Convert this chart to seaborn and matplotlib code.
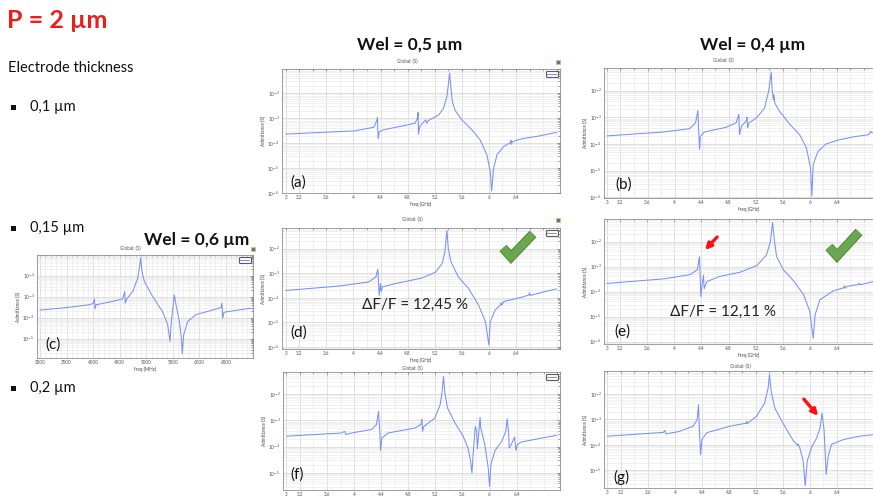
import numpy as np
import pandas as pd
import matplotlib
matplotlib.use("Agg")
import matplotlib.pyplot as plt
import matplotlib.patheffects as pe
import seaborn as sns
from matplotlib.lines import Line2D
from matplotlib.patches import FancyArrowPatch, Rectangle
from matplotlib.ticker import FixedLocator, LogLocator, NullFormatter, FuncFormatter, FixedFormatter

# ---------------- data (freq, admittance in S) ----------------
panel_a = [(3.00, 2.3e-4), (4.02, 3.1e-4), (4.30, 4.3e-4), (4.34, 7.4e-4), (4.355, 1.07e-3),
           (4.36, 3.0e-4), (4.365, 1.5e-4), (4.38, 2.8e-4), (4.44, 3.4e-4), (4.76, 5.1e-4),
           (4.91, 6.3e-4), (4.945, 1.0e-3), (4.955, 1.7e-3), (4.96, 2.3e-4), (4.98, 4.7e-4),
           (5.03, 6.8e-4), (5.07, 8.5e-4), (5.08, 6.3e-4), (5.11, 8.1e-4), (5.26, 1.35e-3),
           (5.33, 2.5e-3), (5.38, 7.4e-3), (5.40, 2.1e-2), (5.42, 6.3e-2), (5.44, 1.6e-2),
           (5.46, 4.6e-3), (5.50, 2.1e-3), (5.60, 8.5e-4), (5.75, 3.4e-4), (5.87, 1.35e-4),
           (5.97, 3.4e-5), (6.02, 7.4e-6), (6.04, 1.2e-6), (6.07, 1.0e-5), (6.12, 3.4e-5),
           (6.22, 7.4e-5), (6.32, 1.05e-4), (6.325, 1.3e-4), (6.33, 9.0e-5), (6.35, 1.15e-4),
           (6.49, 1.5e-4), (6.73, 1.9e-4), (7.00, 2.7e-4)]

panel_b = [(3.00, 2.0e-4), (3.83, 2.8e-4), (4.22, 3.7e-4), (4.31, 6.2e-4), (4.345, 1.8e-3),
           (4.355, 3.5e-4), (4.37, 6.2e-5), (4.38, 1.9e-4), (4.44, 2.8e-4), (4.76, 4.2e-4),
           (4.91, 6.2e-4), (4.95, 1.3e-3), (4.96, 2.2e-4), (4.99, 4.6e-4), (5.06, 7.5e-4),
           (5.07, 1.0e-3), (5.08, 4.0e-4), (5.10, 6.2e-4), (5.21, 9.4e-4), (5.33, 2.2e-3),
           (5.39, 9.4e-3), (5.43, 5.0e-2), (5.44, 1.26e-2), (5.46, 4.6e-3), (5.47, 7.1e-3),
           (5.48, 3.5e-3), (5.55, 1.7e-3), (5.70, 5.6e-4), (5.85, 2.2e-4), (5.95, 7.1e-5),
           (6.01, 1.26e-5), (6.03, 1.1e-6), (6.05, 1.7e-5), (6.12, 5.2e-5), (6.24, 1.0e-4),
           (6.44, 1.45e-4), (6.68, 1.9e-4), (6.86, 2.2e-4), (6.88, 2.4e-4), (6.90, 3.0e-4),
           (6.92, 2.6e-4), (7.00, 2.8e-4)]

panel_c = [(3000, 2.3e-4), (3490, 3.0e-4), (3929, 4.1e-4), (3992, 4.7e-4), (4011, 5.5e-4),
           (4023, 7.8e-4), (4036, 2.6e-4), (4055, 4.1e-4), (4306, 5.5e-4), (4557, 7.8e-4),
           (4594, 1.7e-3), (4607, 4.9e-4), (4632, 7.8e-4), (4745, 1.7e-3), (4839, 7.4e-3),
           (4870, 2.2e-2), (4896, 7.1e-2), (4921, 1.55e-2), (4965, 5.2e-3), (5122, 1.0e-3),
           (5310, 1.9e-4), (5404, 4.6e-5), (5448, 7.4e-6), (5473, 6.6e-5), (5511, 4.9e-4),
           (5530, 1.2e-3), (5561, 4.1e-4), (5624, 6.6e-5), (5662, 1.07e-5), (5680, 1.9e-6),
           (5705, 1.5e-5), (5781, 6.6e-5), (5938, 1.4e-4), (6252, 2.3e-4), (6408, 3.0e-4),
           (6427, 4.9e-4), (6440, 9.5e-5), (6465, 1.8e-4), (6628, 2.1e-4), (6973, 2.8e-4)]

panel_d = [(3.00, 2.0e-4), (3.78, 3.0e-4), (4.22, 4.4e-4), (4.33, 7.0e-4), (4.36, 1.45e-3),
           (4.37, 4.4e-4), (4.38, 1.26e-4), (4.40, 3.8e-4), (4.41, 1.8e-4), (4.43, 2.8e-4),
           (4.62, 3.8e-4), (5.01, 6.4e-4), (5.21, 1.1e-3), (5.31, 2.5e-3), (5.35, 7.3e-3),
           (5.38, 5.6e-2), (5.40, 1.0e-2), (5.44, 2.9e-3), (5.55, 7.0e-4), (5.70, 2.4e-4),
           (5.85, 4.9e-5), (5.95, 1.05e-5), (6.00, 1.2e-6), (6.02, 1.05e-5), (6.09, 3.1e-5),
           (6.17, 5.2e-5), (6.18, 6.3e-5), (6.19, 5.0e-5), (6.22, 7.1e-5), (6.49, 1.07e-4),
           (6.59, 1.3e-4), (6.60, 1.6e-4), (6.61, 1.25e-4), (6.83, 1.8e-4), (7.00, 2.3e-4)]

panel_e = [(3.00, 2.1e-4), (3.84, 3.2e-4), (4.23, 4.7e-4), (4.34, 7.4e-4), (4.37, 2.5e-3),
           (4.38, 4.7e-4), (4.39, 6.3e-5), (4.41, 1.9e-4), (4.43, 4.4e-4), (4.44, 1.3e-4),
           (4.48, 2.5e-4), (4.67, 4.0e-4), (4.97, 5.9e-4), (5.22, 1.1e-3), (5.36, 2.9e-3),
           (5.42, 1.0e-2), (5.45, 5.8e-2), (5.48, 1.0e-2), (5.51, 2.5e-3), (5.61, 7.4e-4),
           (5.76, 2.7e-4), (5.91, 7.4e-5), (6.00, 1.6e-5), (6.05, 1.35e-6), (6.08, 1.2e-5),
           (6.15, 4.7e-5), (6.35, 1.07e-4), (6.50, 1.4e-4), (6.51, 1.7e-4), (6.52, 1.35e-4),
           (6.55, 1.6e-4), (6.72, 1.9e-4), (6.73, 2.2e-4), (6.74, 1.85e-4), (6.94, 2.5e-4)]

panel_f = [(3.00, 2.5e-4), (3.81, 3.3e-4), (3.86, 3.8e-4), (3.88, 2.9e-4), (3.96, 3.3e-4),
           (4.26, 4.5e-4), (4.33, 6.9e-4), (4.36, 2.2e-3), (4.38, 3.8e-4), (4.39, 7.1e-5),
           (4.41, 2.1e-4), (4.50, 3.3e-4), (4.90, 5.1e-4), (4.99, 7.2e-4), (5.00, 1.07e-3),
           (5.01, 3.8e-4), (5.03, 5.9e-4), (5.19, 1.2e-3), (5.27, 3.9e-3), (5.30, 1.26e-2),
           (5.32, 4.7e-2), (5.34, 1.1e-2), (5.38, 2.9e-3), (5.49, 7.9e-4), (5.61, 2.5e-4),
           (5.68, 8.9e-5), (5.72, 2.8e-5), (5.74, 1.0e-5), (5.76, 6.6e-5), (5.79, 5.9e-4),
           (5.81, 3.8e-4), (5.82, 8.3e-5), (5.84, 3.3e-4), (5.86, 1.3e-3), (5.87, 5.1e-4),
           (5.93, 1.2e-4), (5.98, 1.55e-5), (6.00, 3.1e-6), (6.02, 2.1e-5), (6.08, 7.1e-5),
           (6.18, 1.6e-4), (6.24, 3.8e-4), (6.26, 1.15e-3), (6.28, 3.8e-4), (6.29, 8.9e-5),
           (6.32, 1.2e-4), (6.37, 2.3e-4), (6.39, 7.1e-5), (6.41, 1.2e-4), (6.47, 1.5e-4),
           (6.72, 2.0e-4), (6.99, 2.7e-4)]

panel_g = [(3.00, 2.2e-4), (3.83, 3.1e-4), (3.85, 3.7e-4), (3.87, 2.7e-4), (4.07, 3.4e-4),
           (4.27, 5.4e-4), (4.33, 1.0e-3), (4.35, 3.8e-3), (4.36, 6.3e-4), (4.38, 4.0e-5),
           (4.40, 1.6e-4), (4.47, 3.0e-4), (4.81, 5.4e-4), (5.06, 7.2e-4), (5.065, 8.5e-4),
           (5.07, 6.8e-4), (5.21, 1.35e-3), (5.33, 4.5e-3), (5.38, 1.7e-2), (5.40, 6.0e-2),
           (5.43, 1.1e-2), (5.48, 2.8e-3), (5.60, 7.2e-4), (5.75, 1.5e-4), (5.82, 9.3e-5),
           (5.825, 1.1e-4), (5.85, 7.6e-5), (5.90, 2.3e-5), (5.93, 2.5e-6), (5.96, 2.3e-5),
           (6.02, 7.6e-5), (6.10, 1.9e-4), (6.15, 4.7e-4), (6.18, 1.8e-3), (6.21, 3.5e-4),
           (6.24, 6.9e-6), (6.27, 3.6e-5), (6.32, 1.05e-4), (6.49, 1.6e-4), (6.73, 2.2e-4),
           (6.93, 2.5e-4)]

ghz_ticks = [3, 3.2, 3.6, 4, 4.4, 4.8, 5.2, 5.6, 6, 6.4]
ghz_labels = ["3", "3.2", "3.6", "4", "4.4", "4.8", "5.2", "5.6", "6", "6.4"]
mhz_ticks = [3000, 3500, 4000, 4500, 5000, 5500, 6000, 6500]
mhz_labels = ["3000", "3500", "4000", "4500", "5000", "5500", "6000", "6500"]

# ---------------- figure ----------------
sns.set_theme(style="white")
plt.rcParams['font.family'] = ['Lato', 'DejaVu Sans']
plt.rcParams['mathtext.fontset'] = 'dejavusans'

W, H = 873, 498
fig = plt.figure(figsize=(W / 100, H / 100), dpi=100)
fig.patch.set_facecolor("white")

LINE = "#7891f5"


def px_axes(l, t, r, b):
    return fig.add_axes([l / W, 1 - b / H, (r - l) / W, (b - t) / H])


def fx(x):
    return x / W


def fy(y):
    return 1 - y / H


def draw_panel(rect, pts, xlim, ylim, ticks, labels, minor_step, xlabel):
    ax = px_axes(*rect)
    f = [p[0] for p in pts]
    y = [p[1] for p in pts]
    df = pd.DataFrame({"freq": f, "Y": y})
    ax.set_yscale("log")
    sns.lineplot(data=df, x="freq", y="Y", ax=ax, color=LINE, lw=0.75,
                 estimator=None, sort=False, label=" ")
    ax.set_xlim(*xlim)
    ax.set_ylim(*ylim)
    ax.xaxis.set_major_locator(FixedLocator(ticks))
    ax.xaxis.set_major_formatter(FixedFormatter(labels))
    ax.xaxis.set_minor_locator(FixedLocator(np.arange(xlim[0] - xlim[0] % minor_step, xlim[1], minor_step)))
    ax.yaxis.set_major_locator(LogLocator(base=10, numticks=12))
    ax.yaxis.set_major_formatter(FuncFormatter(lambda v, _: r"$10^{%d}$" % int(round(np.log10(v)))))
    ax.yaxis.set_minor_locator(LogLocator(base=10, subs=np.arange(2, 10), numticks=12))
    ax.yaxis.set_minor_formatter(NullFormatter())
    ax.grid(which="major", color="#cfcfcf", lw=0.45)
    ax.grid(which="minor", color="#e9e9e9", lw=0.45)
    ax.tick_params(which="both", direction="in", top=True, right=True, labelsize=3.3,
                   pad=1.5, colors="#555555", length=2, width=0.4)
    ax.tick_params(which="minor", length=1.2)
    for s in ax.spines.values():
        s.set_color("#777777")
        s.set_linewidth(0.5)
    ax.set_xlabel(xlabel, fontsize=3.3, labelpad=1, color="#444444")
    ax.set_ylabel("Admittance (S)", fontsize=3.3, labelpad=1, color="#444444")
    leg = ax.legend(loc="upper right", fontsize=2.5, handlelength=2.6, frameon=True,
                    borderpad=0.25, borderaxespad=0.6, fancybox=True, handletextpad=0.1)
    leg.get_frame().set_edgecolor("#333333")
    leg.get_frame().set_linewidth(0.8)
    return ax


ax_a = draw_panel((282, 69, 560, 193), panel_a, (2.945, 7.05), (1e-6, 10 ** -1.03),
                  ghz_ticks, ghz_labels, 0.2, "freq (GHz)")
ax_b = draw_panel((604, 68, 893, 198), panel_b, (2.956, 7.23), (10 ** -6.03, 10 ** -1.15),
                  ghz_ticks, ghz_labels, 0.2, "freq (GHz)")
ax_c = draw_panel((37, 255, 253, 358), panel_c, (2943, 7011), (10 ** -5.92, 10 ** -1.02),
                  mhz_ticks, mhz_labels, 100, "freq (MHz)")
ax_d = draw_panel((282, 228, 560, 349), panel_d, (2.945, 7.05), (10 ** -6.08, 10 ** -1.16),
                  ghz_ticks, ghz_labels, 0.2, "freq (GHz)")
ax_e = draw_panel((604, 219, 893, 344), panel_e, (2.96, 7.23), (10 ** -6.1, 10 ** -1.1),
                  ghz_ticks, ghz_labels, 0.2, "freq (GHz)")
ax_f = draw_panel((283, 372, 560, 490), panel_f, (2.95, 7.04), (10 ** -5.65, 10 ** -1.16),
                  ghz_ticks, ghz_labels, 0.2, "")
ax_g = draw_panel((604, 371, 893, 488), panel_g, (2.95, 7.23), (10 ** -5.7, 10 ** -1.09),
                  ghz_ticks, ghz_labels, 0.2, "")

# plot titles "Global: (S)"
for (x, y) in [(407, 61), (723, 60), (130, 248), (412, 219), (412, 368), (740, 366)]:
    fig.text(fx(x), fy(y), "Global: (S)", fontsize=3.3, color="#555555", ha="center", va="center")

# tiny window icons
for (x, y) in [(556, 60), (251, 247), (556, 218)]:
    fig.add_artist(Rectangle((fx(x), fy(y + 4)), 4 / W, 4 / H, transform=fig.transFigure,
                             facecolor="#3f78c8", edgecolor="#e9c440", lw=0.6))

# panel letters
for (x, y, s) in [(298, 183, "(a)"), (624, 185, "(b)"), (53, 345, "(c)"), (299, 333, "(d)"),
                  (622, 332, "(e)"), (297, 475, "(f)"), (621, 477, "(g)")]:
    fig.text(fx(x), fy(y), s, fontsize=11, ha="center", va="center", color="#111111")

# slide text
fig.text(fx(7), fy(21), "P = 2 µm", color="#ee1c1c", fontsize=18, fontweight="bold",
         ha="left", va="center")
fig.text(fx(8), fy(68), "Electrode thickness", fontsize=10.5, ha="left", va="center", color="#111111")
for (y, s) in [(107, "0,1 µm"), (228, "0,15 µm"), (388, "0,2 µm")]:
    fig.add_artist(Rectangle((fx(11), fy(y + 3)), 5 / W, 5 / H, transform=fig.transFigure,
                             facecolor="#111111", edgecolor="none"))
    fig.text(fx(30), fy(y), s, fontsize=10.5, ha="left", va="center", color="#111111")

for (x, y, s) in [(410, 45, "Wel = 0,5 µm"), (753, 45, "Wel = 0,4 µm"), (197, 240, "Wel = 0,6 µm")]:
    fig.text(fx(x), fy(y), s, fontsize=12.5, fontweight="bold", ha="center", va="center",
             color="#111111")

fig.text(fx(415), fy(305), "ΔF/F = 12,45 %", fontsize=11, ha="center", va="center", color="#222222")
fig.text(fx(723), fy(312), "ΔF/F = 12,11 %", fontsize=11, ha="center", va="center", color="#222222")

# green check marks
for pts in [[(503, 248), (511, 257), (533, 234)], [(829, 247), (837, 256), (859, 232)]]:
    fig.add_artist(Line2D([fx(p[0]) for p in pts], [fy(p[1]) for p in pts],
                          transform=fig.transFigure, color="#6aa84f", lw=5.5,
                          solid_joinstyle="miter", solid_capstyle="butt",
                          path_effects=[pe.Stroke(linewidth=6.8, foreground="#4d7f34"), pe.Normal()]))

# red arrows
for (a, b) in [((719, 235), (703, 252)), ((802, 397), (820, 418))]:
    fig.add_artist(FancyArrowPatch((fx(a[0]), fy(a[1])), (fx(b[0]), fy(b[1])),
                                   transform=fig.transFigure, arrowstyle="-|>",
                                   mutation_scale=9, lw=2.4, color="#ff1010"))

fig.savefig("out.png", dpi=100, facecolor="white")
